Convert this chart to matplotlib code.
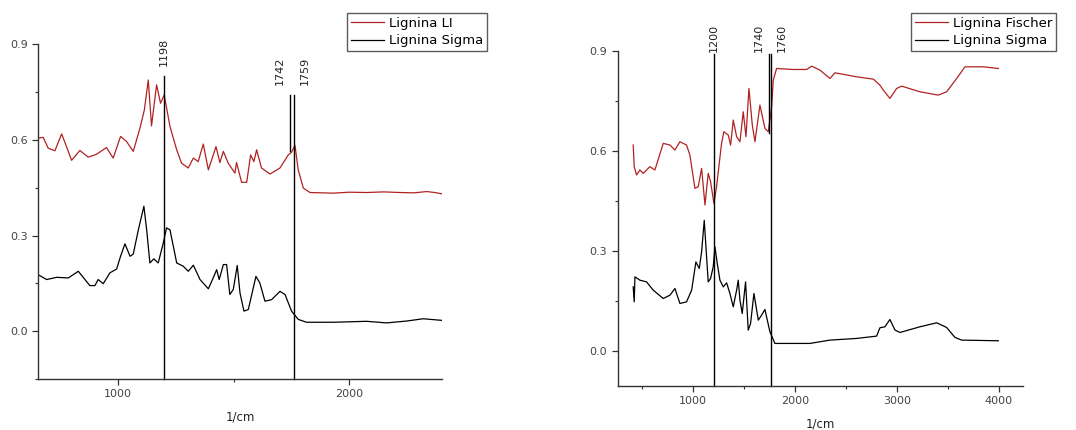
import matplotlib
matplotlib.use("Agg")
import matplotlib.pyplot as plt
from matplotlib.ticker import MultipleLocator

# left panel: Lignina LI vs Lignina Sigma
li_x = [654, 675, 697, 726, 755, 776, 798, 834, 870, 906, 949, 978, 1010, 1036, 1065,
        1094, 1113, 1130, 1144, 1166, 1183, 1199, 1224, 1253, 1274, 1303, 1325, 1346,
        1368, 1390, 1423, 1440, 1455, 1476, 1505, 1512, 1534, 1556, 1573, 1587, 1599,
        1620, 1657, 1700, 1736, 1750, 1765, 1779, 1801, 1830, 1931, 2000, 2075, 2150,
        2219, 2280, 2335, 2370, 2400]
li_y = [0.606, 0.608, 0.574, 0.566, 0.619, 0.579, 0.536, 0.567, 0.546, 0.555, 0.576,
        0.543, 0.611, 0.595, 0.564, 0.637, 0.694, 0.788, 0.644, 0.773, 0.715, 0.741,
        0.642, 0.569, 0.527, 0.512, 0.543, 0.532, 0.587, 0.506, 0.579, 0.529, 0.564,
        0.527, 0.496, 0.529, 0.467, 0.467, 0.553, 0.532, 0.569, 0.512, 0.493, 0.512,
        0.553, 0.561, 0.583, 0.506, 0.449, 0.435, 0.433, 0.436, 0.435, 0.437, 0.435,
        0.434, 0.438, 0.435, 0.431]

sig1_x = [654, 690, 733, 784, 827, 877, 899, 913, 935, 964, 993, 1010, 1029, 1051, 1065,
          1087, 1111, 1123, 1137, 1154, 1173, 1195, 1209, 1224, 1253, 1281, 1303, 1325,
          1354, 1390, 1411, 1426, 1437, 1455, 1469, 1483, 1498, 1515, 1527, 1544, 1563,
          1596, 1613, 1635, 1664, 1700, 1722, 1750, 1779, 1815, 1931, 2075, 2162, 2250,
          2320, 2400]
sig1_y = [0.177, 0.162, 0.169, 0.167, 0.188, 0.143, 0.143, 0.162, 0.149, 0.183, 0.195,
          0.235, 0.274, 0.235, 0.242, 0.318, 0.392, 0.318, 0.214, 0.227, 0.214, 0.277,
          0.324, 0.318, 0.214, 0.204, 0.188, 0.207, 0.162, 0.133, 0.167, 0.193, 0.162,
          0.209, 0.209, 0.115, 0.131, 0.206, 0.120, 0.063, 0.068, 0.172, 0.151, 0.094,
          0.099, 0.125, 0.115, 0.063, 0.037, 0.028, 0.028, 0.031, 0.026, 0.032, 0.039,
          0.034]

# right panel: Lignina Fischer vs Lignina Sigma
fis_x = [410, 420, 443, 476, 509, 574, 623, 705, 771, 820, 869, 934, 967, 1016, 1049,
         1082, 1115, 1147, 1170, 1203, 1229, 1278, 1301, 1344, 1367, 1393, 1426, 1459,
         1491, 1518, 1547, 1580, 1606, 1655, 1704, 1737, 1770, 1786, 1819, 1983, 2114,
         2163, 2245, 2343, 2392, 2605, 2769, 2834, 2867, 2932, 2998, 3047, 3227, 3407,
         3489, 3588, 3669, 3849, 3997]
fis_y = [0.618, 0.553, 0.528, 0.543, 0.533, 0.553, 0.543, 0.623, 0.618, 0.603, 0.628,
         0.618, 0.588, 0.488, 0.493, 0.548, 0.438, 0.533, 0.508, 0.443, 0.493, 0.623,
         0.658, 0.648, 0.618, 0.693, 0.643, 0.628, 0.718, 0.643, 0.788, 0.678, 0.628,
         0.738, 0.668, 0.658, 0.733, 0.813, 0.848, 0.845, 0.845, 0.855, 0.843, 0.818,
         0.835, 0.823, 0.816, 0.798, 0.783, 0.758, 0.788, 0.795, 0.778, 0.768, 0.778,
         0.818, 0.853, 0.853, 0.848]

sig2_x = [410, 420, 427, 476, 541, 607, 705, 771, 820, 869, 934, 984, 1026, 1059, 1082,
          1108, 1131, 1147, 1170, 1196, 1213, 1236, 1262, 1295, 1328, 1360, 1393, 1426,
          1442, 1459, 1481, 1514, 1540, 1563, 1596, 1639, 1671, 1704, 1753, 1802, 1983,
          2146, 2343, 2605, 2801, 2834, 2883, 2932, 2982, 3031, 3227, 3391, 3489, 3571,
          3637, 3997]
sig2_y = [0.192, 0.147, 0.222, 0.212, 0.207, 0.182, 0.157, 0.167, 0.187, 0.142, 0.147,
          0.182, 0.267, 0.247, 0.297, 0.392, 0.282, 0.207, 0.217, 0.252, 0.312, 0.262,
          0.212, 0.192, 0.204, 0.172, 0.132, 0.182, 0.212, 0.152, 0.112, 0.207, 0.062,
          0.082, 0.172, 0.092, 0.107, 0.124, 0.057, 0.022, 0.022, 0.022, 0.032, 0.037,
          0.044, 0.069, 0.072, 0.094, 0.062, 0.055, 0.072, 0.084, 0.070, 0.040, 0.032,
          0.030]

# marked bands: position, line top, line bottom, label shift x / y (points)
left_marks = [(1198, 0.80, -0.15, 0, 7), (1742, 0.741, 0.564, -7, 7),
              (1759, 0.741, -0.15, 8, 7)]
right_marks = [(1200, 0.89, -0.105, 0, 2), (1740, 0.89, 0.653, -7, 2),
               (1760, 0.89, -0.105, 8, 2)]

RED = '#b22222'
GREY = '#444444'

fig = plt.figure(figsize=(10.76, 4.3), dpi=100)
ax1 = fig.add_axes([0.0356, 0.1186, 0.3749, 0.7784])
ax2 = fig.add_axes([0.574, 0.103, 0.377, 0.778])


def style(ax, xlim, ylim, xmaj, xmin):
    ax.set_xlim(*xlim)
    ax.set_ylim(*ylim)
    for s in ['top', 'right']:
        ax.spines[s].set_visible(False)
    for s in ['left', 'bottom']:
        ax.spines[s].set_color('#333333')
        ax.spines[s].set_linewidth(1.0)
    ax.xaxis.set_major_locator(MultipleLocator(xmaj))
    ax.xaxis.set_minor_locator(MultipleLocator(xmin))
    ax.yaxis.set_major_locator(MultipleLocator(0.3))
    ax.yaxis.set_minor_locator(MultipleLocator(0.15))
    ax.yaxis.set_major_formatter(plt.FuncFormatter(lambda v, p: f'{v:.1f}'))
    ax.tick_params(which='major', direction='out', length=4, width=0.9,
                   colors='#333333', labelcolor=GREY, labelsize=8)
    ax.tick_params(which='minor', direction='out', length=2.5, width=0.8, colors='#333333')
    ax.set_xlabel('1/cm', fontsize=8.5, color='#222222', labelpad=8)


def marks(ax, items):
    for x, top, bottom, dx, dy in items:
        ax.plot([x, x], [bottom, top], color='black', lw=1.0, clip_on=False)
        ax.annotate(str(x), xy=(x, top), xytext=(dx, dy), textcoords='offset points',
                    rotation=90, ha='center', va='bottom', fontsize=8,
                    color='#222222', annotation_clip=False)


def legend(ax, x0):
    leg = ax.legend(loc='upper left', bbox_to_anchor=(x0, 0.970),
                    bbox_transform=fig.transFigure, fontsize=9.5, frameon=True,
                    fancybox=False, edgecolor='#333333', handlelength=2.5,
                    borderpad=0.3, labelspacing=0.35, handletextpad=0.35,
                    borderaxespad=0)
    leg.get_frame().set_linewidth(1.0)


style(ax1, (654, 2400), (-0.15, 0.9), 1000, 500)
ax1.plot(li_x, li_y, color=RED, lw=0.9, label='Lignina LI')
ax1.plot(sig1_x, sig1_y, color='black', lw=0.9, label='Lignina Sigma')
marks(ax1, left_marks)
legend(ax1, 0.3225)

style(ax2, (257, 4242), (-0.105, 0.9), 1000, 500)
ax2.plot(fis_x, fis_y, color=RED, lw=0.9, label='Lignina Fischer')
ax2.plot(sig2_x, sig2_y, color='black', lw=0.9, label='Lignina Sigma')
marks(ax2, right_marks)
legend(ax2, 0.8467)

fig.savefig('out.png', dpi=100)
